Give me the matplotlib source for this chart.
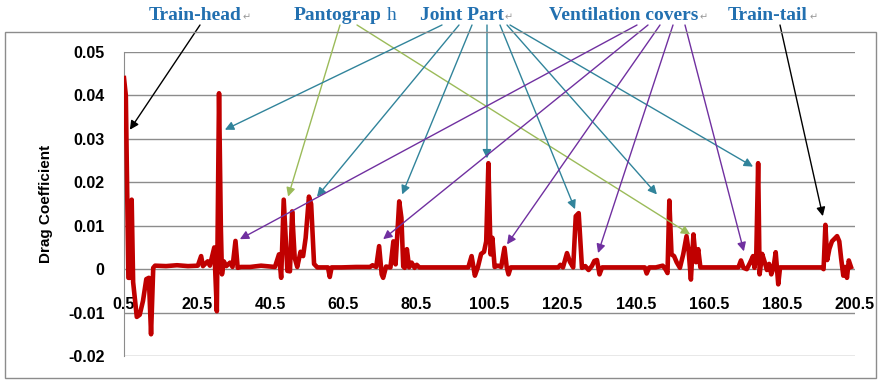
import matplotlib
matplotlib.use("Agg")
import matplotlib.pyplot as plt
from matplotlib.patches import Rectangle
import matplotlib.ticker as ticker

# drag coefficient along the train
pos = [0.5, 1.0, 1.7, 2.1, 2.6, 3.0, 4.0, 4.8, 5.7, 6.6, 7.3, 7.9, 8.5, 9.0, 12, 15, 18, 20.7,
       21.6, 22.1, 23.4, 24.0, 25.2, 25.9, 26.5, 27.0, 27.3, 27.8, 28.5, 29.5, 30.2, 31.0, 31.6,
       32.5, 35, 38, 41.8, 42.9, 43.5, 44.2, 45.2, 45.9, 46.5, 47.2, 47.9, 48.8, 49.5, 50.2,
       51.1, 51.7, 52.5, 53.4, 55, 56.3, 56.8, 57.3, 60, 64, 67.8, 68.5, 69.5, 70.3, 71.0,
       71.4, 72.2, 73.4, 74.2, 74.8, 75.8, 76.4, 76.9, 77.3, 77.9, 78.5, 79.2, 80.0, 80.6,
       81.3, 85, 90, 94.7, 95.6, 96.5, 97.3, 98.2, 99.0, 99.6, 100.2, 100.8, 101.3, 101.9,
       102.8, 103.7, 104.6, 105.2, 105.7, 106.3, 110, 115, 119.3, 119.9, 120.6, 121.7, 122.5,
       123.4, 124.1, 124.9, 125.4, 125.8, 126.7, 127.6, 128.5, 129.2, 129.9, 130.6, 131.3,
       135, 140, 143.0, 143.5, 144.2, 146, 147, 147.9, 148.7, 149.2, 149.7, 150.3, 151.0,
       151.7, 152.6, 153.5, 154.4, 155.0, 155.6, 156.3, 157.0, 157.6, 158.2, 162, 166, 168.6,
       169.3, 170.0, 170.9, 171.8, 172.6, 173.0, 173.5, 174.0, 174.4, 175.1, 175.8, 176.4,
       177.0, 177.6, 178.2, 178.8, 179.5, 180.0, 185, 191.4, 191.9, 192.4, 192.9, 193.5,
       194.2, 194.9, 195.6, 196.2, 196.7, 197.3, 197.8, 198.3, 198.8, 199.4]
cd = [0.044, 0.040, -0.002, -0.002, 0.016, -0.003, -0.011, -0.0105, -0.0073, -0.0023, -0.002,
      -0.015, 0.0003, 0.0008, 0.0007, 0.0009, 0.0007, 0.0008,
      0.003, 0.0007, 0.0018, 0.0008, 0.005, -0.0097, 0.0405, 0.0095, -0.0012, 0.0018, 0.0007,
      0.0015, 0.0005, 0.0065, 0.0003,
      0.0005, 0.0005, 0.0008, 0.0005, 0.0034, -0.002, 0.016, -0.0004, -0.0005, 0.0133, 0.0026,
      0.0005, 0.004, 0.003, 0.0072,
      0.0167, 0.015, 0.0012, 0.0004, 0.0004, 0.0004, -0.0018, 0.0004, 0.0004, 0.0005, 0.0005,
      0.0009, 0.0005, 0.0053, -0.0012,
      -0.002, 0.0006, 0.0004, 0.0064, 0.0011, 0.0156, 0.0118, 0.0006, 0.0003, 0.0046, 0.0004,
      0.0015, 0.0003, 0.001,
      0.0004, 0.0004, 0.0004, 0.0004, 0.003, -0.0015, 0.0004, 0.0035, 0.004, 0.0064, 0.0244,
      0.0034, 0.0072, 0.0005,
      0.0008, 0.0005, 0.0049, 0.0005, -0.0012, 0.0004, 0.0004, 0.0004, 0.0004, 0.001, 0.0004,
      0.0037, 0.0017,
      0.0004, 0.0122, 0.0129, 0.006, 0.0003, 0.0007, -0.0002, 0.0007, 0.0019, 0.0021, -0.0012,
      0.0004,
      0.0004, 0.0004, 0.0004, -0.001, 0.0004, 0.0004, 0.0006, 0.0008, -0.0001, -0.0009, 0.0158,
      0.0034, 0.003,
      0.0016, 0.0003, 0.0034, 0.0076, 0.004, -0.0024, 0.008, 0.0016, 0.0046, 0.0004, 0.0004,
      0.0004, 0.0004,
      0.002, 0.0003, 0.0, 0.0015, 0.003, 0.0003, 0.0037, 0.0244, -0.0012, 0.0035, 0.0016,
      -0.0002,
      0.0012, -0.0012, 0.0003, 0.0039, -0.0035, 0.0004, 0.0004, 0.0004, 0.0, 0.0102, 0.0021,
      0.0047,
      0.0064, 0.007, 0.0076, 0.0064, 0.0025, -0.0015, 0.0005, -0.002, 0.002, 0.0005]

xticks = [0.5, 20.5, 40.5, 60.5, 80.5, 100.5, 120.5, 140.5, 160.5, 180.5, 200.5]
yticks = [-0.02, -0.01, 0, 0.01, 0.02, 0.03, 0.04, 0.05]

# annotation labels (centre x in pixels of the 881x380 picture)
labels = ["Train-head", "Pantograp", "Joint Part", "Ventilation covers", "Train-tail"]
label_x = [195, 338, 462, 624, 768]

# arrows: start (figure pixels from top-left) -> target (data)
arrows = [
    ("black", (200, 25), (2.1, 0.0321)),
    ("#9BBB59", (340, 25), (45.4, 0.0167)),
    ("#9BBB59", (357, 25), (155.4, 0.0080)),
    ("#31849B", (442, 25), (28.1, 0.0321)),
    ("#31849B", (459, 25), (53.3, 0.0167)),
    ("#31849B", (472, 25), (76.6, 0.0172)),
    ("#31849B", (487, 25), (99.8, 0.0255)),
    ("#31849B", (500, 25), (123.9, 0.0138)),
    ("#31849B", (507, 25), (146.3, 0.0172)),
    ("#31849B", (510, 25), (172.6, 0.0236)),
    ("#7030A0", (637, 25), (32.2, 0.0069)),
    ("#7030A0", (648, 25), (71.4, 0.0069)),
    ("#7030A0", (660, 25), (105.3, 0.0057)),
    ("#7030A0", (673, 25), (130.2, 0.0037)),
    ("#7030A0", (685, 25), (170.1, 0.0041)),
    ("black", (780, 25), (191.7, 0.0122)),
]

W, H = 881, 380
fig = plt.figure(figsize=(W / 100, H / 100), dpi=100)
ax = fig.add_axes([124 / W, 1 - 356 / H, (855 - 124) / W, (356 - 52) / H])

# outer chart frame
fig.patches.append(Rectangle((5 / W, 1 - 378 / H), 871 / W, 346 / H, transform=fig.transFigure,
                             fill=False, edgecolor="#8c8c8c", lw=1))

ax.plot(pos, cd, color="#C00000", lw=3.3, solid_joinstyle="round", zorder=3)

ax.set_xlim(0.5, 200.5)
ax.set_ylim(-0.02, 0.05)
ax.set_xticks(xticks)
ax.set_xticklabels([str(t) for t in xticks])
ax.set_yticks(yticks)
ax.yaxis.set_major_formatter(ticker.FuncFormatter(lambda v, p: "0" if abs(v) < 1e-9 else f"{v:.2f}"))
ax.grid(axis="y", color="#8c8c8c", lw=1)
ax.set_axisbelow(True)

for s in ["top", "right"]:
    ax.spines[s].set_visible(False)
ax.spines["left"].set_color("#8c8c8c")
ax.spines["bottom"].set_position(("data", 0))
ax.spines["bottom"].set_color("none")

ax.tick_params(axis="x", length=0, pad=20, labelsize=11.5)
ax.tick_params(axis="y", length=0, pad=14, labelsize=11.5)
for lab in ax.get_xticklabels() + ax.get_yticklabels():
    lab.set_fontweight("bold")
    lab.set_fontfamily("Liberation Sans")

ax.set_ylabel("Drag Coefficient", fontsize=11, fontweight="bold", fontfamily="Liberation Sans",
              labelpad=11)

# top labels
blue = "#2270B0"
for t, x in zip(labels, label_x):
    fig.text(x / W, 1 - 15 / H, t, ha="center", va="center", color=blue, fontsize=14,
             fontweight="bold", fontfamily="Liberation Serif")
fig.text(392 / W, 1 - 15 / H, "h", ha="center", va="center", color=blue, fontsize=14,
         fontfamily="Liberation Serif")
for x in [247, 509, 704, 814]:
    fig.text(x / W, 1 - 17 / H, "\u21b5", ha="center", va="center", color="#999999", fontsize=7,
             fontfamily="DejaVu Sans")

for c, (sx, sy), tgt in arrows:
    ax.annotate("", xy=tgt, xycoords="data", xytext=(sx / W, 1 - sy / H),
                textcoords="figure fraction", annotation_clip=False,
                arrowprops=dict(arrowstyle="-|>", color=c, lw=1, mutation_scale=13,
                                shrinkA=0, shrinkB=0), zorder=4)

fig.savefig("out.png", dpi=100)
